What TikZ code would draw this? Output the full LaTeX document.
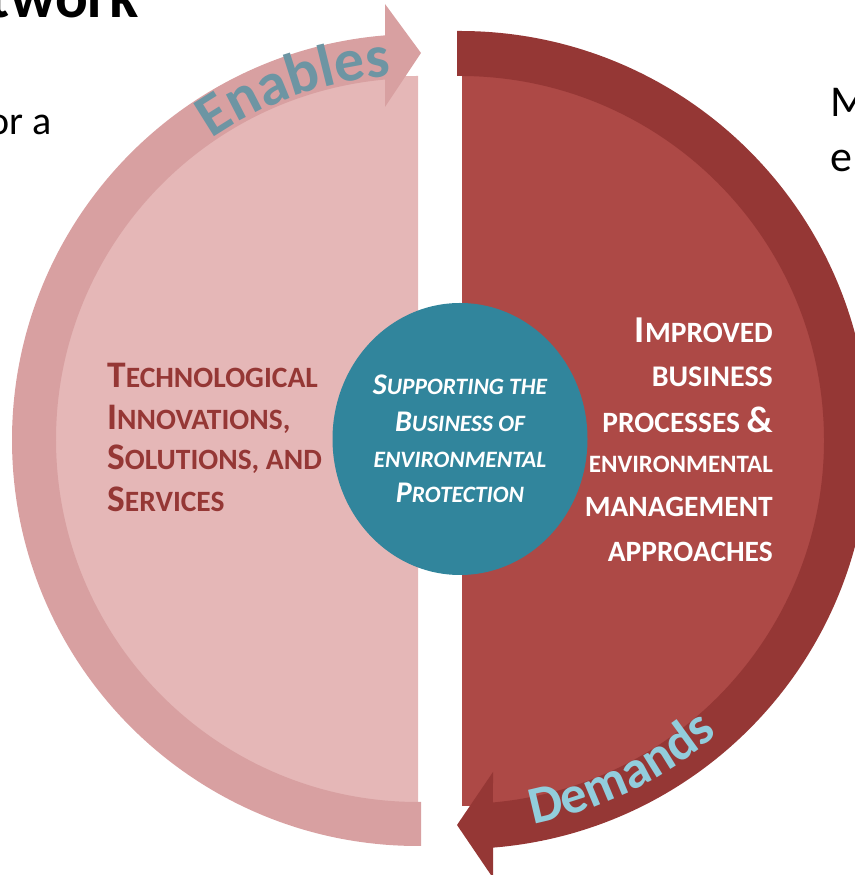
\documentclass[tikz,border=0pt]{standalone}
\usepackage{fontspec}
\setmainfont{Carlito}
\usetikzlibrary{decorations.text,calc,shapes.geometric}
\definecolor{lightfill}{HTML}{E5B7B7}
\definecolor{lightband}{HTML}{D8A0A1}
\definecolor{darkfill}{HTML}{AD4946}
\definecolor{darkband}{HTML}{953735}
\definecolor{myteal}{HTML}{31859C}
\definecolor{enablesc}{HTML}{6D95A3}
\definecolor{demandsc}{HTML}{92CDDC}
\newcommand{\fsz}[1]{\fontsize{#1}{#1}\selectfont}
\newcommand{\Lsc}[2]{{\fsz{37.5}#1}{\fsz{29.5}#2}}
\newcommand{\Csc}[2]{{\fsz{30}#1}{\fsz{23.5}#2}}
\begin{document}
\begin{tikzpicture}[x=1pt,y=1pt,
  lefttxt/.style={anchor=base west,inner sep=0pt,text=darkband,font=\bfseries},
  righttxt/.style={anchor=base east,inner sep=0pt,text=white,font=\bfseries},
  centertxt/.style={anchor=base,inner sep=0pt,text=white,font=\bfseries\itshape},
  slidetxt/.style={inner sep=0pt,text=black}]
\useasboundingbox (0,0) rectangle (854,875);
\coordinate (CL) at (418,435);
\coordinate (CR) at (460,435);
% left half
\fill[lightfill] ($(CL)+(270:364)$) arc[start angle=270,end angle=90,radius=364] -- cycle;
\fill[lightband] (421,29) -- ($(CL)+(270:406)$) arc[start angle=270,end angle=94.66,radius=406]
  -- (385,871) -- (421,822) -- (385,768) -- ($(CL)+(95.23:362)$)
  arc[start angle=95.23,end angle=270,radius=362] -- (421,73) -- cycle;
% right half
\fill[darkfill] (462,801) arc[start angle=90,end angle=-90,radius=366] -- cycle;
\fill[darkband] (457,844) -- ($(CR)+(90:409)$) arc[start angle=90,end angle=-85.37,radius=409]
  -- (493,-3) -- (457,50) -- (493,103) -- ($(CR)+(-84.8:364)$)
  arc[start angle=-84.8,end angle=90,radius=364] -- (457,799) -- cycle;
% centre circle
\node[ellipse,fill=myteal,minimum width=255pt,minimum height=272pt,inner sep=0pt] (hub) at (460,436) {};
\node[centertxt] (c1) at (460,480) {\Csc{S}{UPPORTING THE}};
\node[centertxt] (c2) at (460,443) {\Csc{B}{USINESS OF}};
\node[centertxt] (c3) at (460,407) {{\fsz{23.5}ENVIRONMENTAL}};
\node[centertxt] (c4) at (460,372) {\Csc{P}{ROTECTION}};
% left text
\node[lefttxt] (l1) at (107,487) {\Lsc{T}{ECHNOLOGICAL}};
\node[lefttxt] (l2) at (107,445) {\Lsc{I}{NNOVATIONS,}};
\node[lefttxt] (l3) at (107,405) {\Lsc{S}{OLUTIONS, AND}};
\node[lefttxt] (l4) at (107,363) {\Lsc{S}{ERVICES}};
% right text
\node[righttxt] (r1) at (773,532) {{\fsz{38}I}{\fsz{29.5}MPROVED}};
\node[righttxt] (r2) at (773,488) {{\fsz{30}BUSINESS}};
\node[righttxt] (r3) at (773,442) {{\fsz{29.5}PROCESSES }{\fsz{37}\&}};
\node[righttxt] (r4) at (773,402) {{\fsz{25}ENVIRONMENTAL}};
\node[righttxt] (r5) at (773,358) {{\fsz{29.5}MANAGEMENT}};
\node[righttxt] (r6) at (773,313) {{\fsz{29.5}APPROACHES}};
% curved labels
\path[decorate,decoration={text along path,text align=center,
  text={|\fsz{60}\bfseries\color{enablesc}|Enables}}]
  ($(CL)+(132:365)$) arc[start angle=132,end angle=86.6,radius=365];
\path[decorate,decoration={text along path,text align=center,
  text={|\fsz{53}\bfseries\color{demandsc}|Demands}}]
  ($(CR)+(-92:391)$) arc[start angle=-92,end angle=-36,radius=391];
% cropped slide text
\node[slidetxt,anchor=base east,font=\bfseries\fsz{61}] (title) at (139,857) {twork};
\node[slidetxt,anchor=base east,font=\fsz{40}] (body1) at (52,740) {or a};
\node[slidetxt,anchor=base west,font=\fsz{44}] (body2) at (830,758) {M};
\node[slidetxt,anchor=base west,font=\fsz{44}] (body3) at (830,703) {e};
\end{tikzpicture}
\end{document}
